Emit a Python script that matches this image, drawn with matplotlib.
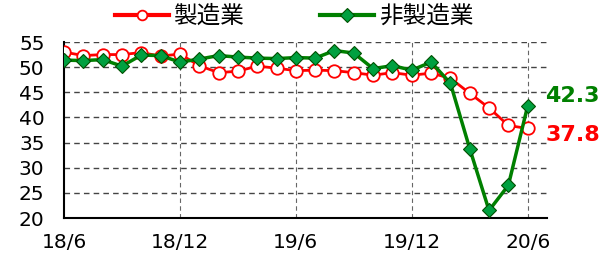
import matplotlib.pyplot as plt
import numpy as np

plt.rcParams['font.family'] = ['DejaVu Sans', 'Noto Sans CJK JP']

# monthly, 2018/6 .. 2020/6
tick_labels = ["18/6", "18/12", "19/6", "19/12", "20/6"]
manufacturing = [53.0, 52.3, 52.5, 52.5, 52.9, 52.2, 52.6, 50.3, 48.9, 49.2,
                 50.2, 49.8, 49.3, 49.4, 49.3, 48.9, 48.4, 48.9, 48.4, 48.8,
                 47.8, 44.8, 41.9, 38.4, 37.8]
non_manufacturing = [51.4, 51.3, 51.5, 50.2, 52.4, 52.3, 51.0, 51.6, 52.3, 52.0,
                     51.8, 51.7, 51.9, 51.8, 53.3, 52.8, 49.7, 50.3, 49.4, 51.0,
                     46.8, 33.8, 21.5, 26.5, 42.3]

x = np.arange(len(manufacturing))

fig = plt.figure(figsize=(6.1, 2.62), dpi=100)
ax = fig.add_axes([64/610, 1-218/262, (547-64)/610, (218-42)/262])

ax.plot(x, manufacturing, color='#ff0000', lw=2, marker='o', ms=9,
        mfc='white', mec='#ff0000', mew=1.3, label='製造業', zorder=3)
ax.plot(x, non_manufacturing, color='#008000', lw=2.5, marker='D', ms=7,
        mfc='#00a040', mec='#005000', mew=0.8, label='非製造業', zorder=4)

ax.set_xlim(0, 25)
ax.set_ylim(20, 55)
ax.set_yticks(range(20, 56, 5))
ax.set_xticks(range(0, 25, 6))
ax.set_xticklabels(tick_labels)
ax.tick_params(length=0, labelsize=14.5)
ax.tick_params(axis='y', pad=14)
ax.tick_params(axis='x', pad=11)

for v in range(25, 56, 5):
    ax.axhline(v, color='#444444', lw=1, ls=(0, (4, 3)), zorder=1)
for m in range(6, 25, 6):
    ax.axvline(m, color='#666666', lw=0.8, ls=(0, (4, 3)), zorder=1)

for s in ['top', 'right']:
    ax.spines[s].set_visible(False)
ax.spines['left'].set_linewidth(1.5)
ax.spines['bottom'].set_linewidth(1.5)

ax.text(24.9, 44.2, f"{non_manufacturing[-1]}", color='#008000',
        fontsize=16, fontweight='bold', va='center', ha='left', clip_on=False)
ax.text(24.9, 36.6, f"{manufacturing[-1]}", color='#ff0000',
        fontsize=16, fontweight='bold', va='center', ha='left', clip_on=False)

leg = fig.legend(loc='center', bbox_to_anchor=(0.482, 0.937), ncol=2, frameon=False,
                 prop={'family': 'Noto Sans CJK JP', 'size': 17},
                 handlelength=2.3, columnspacing=3.2, handletextpad=0.2)
for h in leg.legend_handles:
    h.set_markersize(7)
    h.set_linewidth(3)

fig.savefig('out.png', dpi=100)
